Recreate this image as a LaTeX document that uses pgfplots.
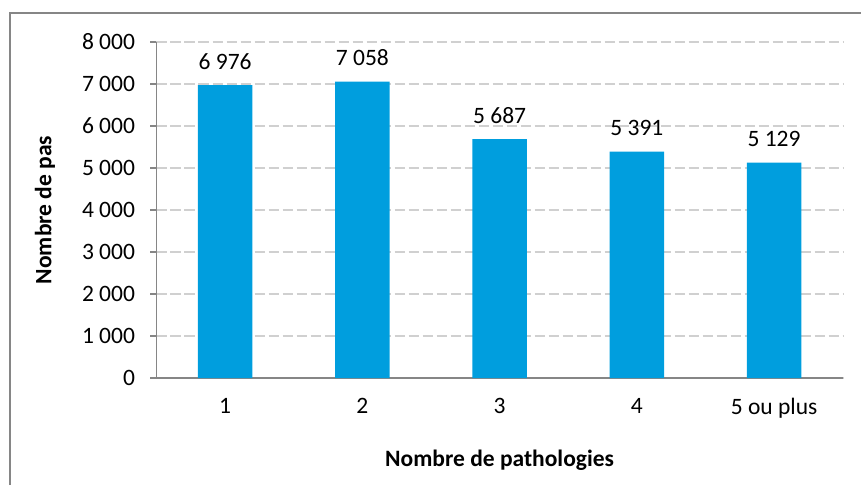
\documentclass[border=0pt]{standalone}
\usepackage{pgfplots}
\pgfplotsset{compat=1.18}
\usepackage{fontspec}
\setmainfont{Carlito}
\definecolor{barblue}{RGB}{0,158,222}
\definecolor{axgray}{RGB}{134,134,134}
\definecolor{gridgray}{RGB}{208,208,208}
\begin{document}
\begin{tikzpicture}
\begin{axis}[
  scale only axis,
  width=686.2pt, height=336pt,
  xmin=0.5, xmax=5.5, ymin=0, ymax=8000,
  axis x line*=bottom, axis y line*=left,
  axis line style={axgray, line width=1.1pt},
  xtick={1,2,3,4,5},
  xticklabels={1,2,3,4,5 ou plus},
  extra x ticks={0.5,1.5,2.5,3.5,4.5,5.5},
  extra x tick labels={},
  extra x tick style={major tick length=7pt, tick style={axgray, line width=1.1pt}, grid=none},
  x tick style={draw=none},
  ytick={0,1000,...,8000},
  yticklabels={0,1 000,2 000,3 000,4 000,5 000,6 000,7 000,8 000},
  y tick style={axgray, line width=1.1pt},
  major tick length=6pt,
  tick align=outside,
  ymajorgrids,
  grid style={gridgray, line width=1.3pt, dash pattern=on 10.7pt off 3.3pt},
  tick label style={font=\fontsize{23.5}{28}\selectfont, text=black},
  yticklabel style={xshift=-12pt},
  xticklabel style={yshift=-11pt},
  xlabel={\textbf{Nombre de pathologies}},
  ylabel={\textbf{Nombre de pas}},
  label style={font=\fontsize{23.5}{28}\selectfont},
  xlabel style={yshift=-12pt},
  ylabel style={yshift=20pt},
  /pgf/number format/assume math mode=true,
  nodes near coords,
  point meta=explicit symbolic,
  nodes near coords style={font=\fontsize{23.5}{28}\selectfont, anchor=south, yshift=12pt},
]
\addplot[ybar, bar width=54.6pt, fill=barblue, draw=none] coordinates {
  (1,6976)[6 976] (2,7058)[7 058] (3,5687)[5 687] (4,5391)[5 391] (5,5129)[5 129]
};
\end{axis}
\draw[axgray, line width=1.3pt] ([xshift=-146.5pt, yshift=-107pt]current axis.south west) -- ([xshift=-146.5pt, yshift=365pt]current axis.south west) -- ([xshift=704.5pt, yshift=365pt]current axis.south west);
\pgfresetboundingbox
\path[use as bounding box] ([xshift=-156.5pt, yshift=-107pt]current axis.south west) rectangle ([xshift=704.5pt, yshift=378pt]current axis.south west);
\end{tikzpicture}
\end{document}
